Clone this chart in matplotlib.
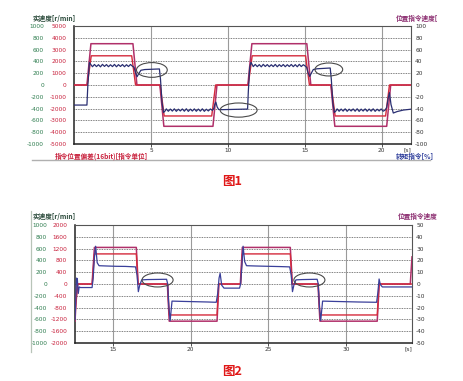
import matplotlib
matplotlib.use('Agg')
import matplotlib.pyplot as plt
from matplotlib.patches import Ellipse
from matplotlib.lines import Line2D

plt.rcParams['font.family'] = ['DejaVu Sans', 'Noto Sans CJK SC']
CJK = ['Noto Sans CJK SC', 'DejaVu Sans']

# ---------------- data: chart 1 (values in left-axis units, r/min) ----------------
c1_xticks = [5, 10, 15, 20]
c1_green_ticks = [1000, 800, 600, 400, 200, 0, -200, -400, -600, -800, -1000]
c1_red_ticks = [5000, 4000, 3000, 2000, 1000, 0, -1000, -2000, -3000, -4000, -5000]
c1_right_ticks = [100, 80, 60, 40, 20, 0, -20, -40, -60, -80, -100]

c1_cmd_t = [0, 0.84, 1.1, 3.83, 4.09, 5.58, 5.84, 9.03, 9.29, 11.3, 11.56, 15.13, 15.39,
            16.69, 16.95, 20.32, 20.58, 21.9]
c1_cmd_v = [0, 0, 700, 700, 0, 0, -700, -700, 0, 0, 700, 700, 0, 0, -700, -700, 0, 0]

c1_dev_t = [0, 0.86, 1.12, 3.75, 4.0, 5.6, 5.86, 8.95, 9.2, 11.32, 11.58, 15.05, 15.3,
            16.71, 16.97, 20.25, 20.5, 21.9]
c1_dev_v = [0, 0, 495, 495, 0, 0, -525, -525, 0, 0, 495, 495, 0, 0, -525, -525, 0, 0]

c1_blue_t = [0, 0.84, 0.9, 1.0, 1.1,
             1.2, 1.33, 1.46, 1.59, 1.72, 1.85, 1.98, 2.11, 2.24, 2.37, 2.5, 2.63, 2.76, 2.89,
             3.02, 3.15, 3.28, 3.41, 3.54, 3.67, 3.8,
             3.9, 4.0, 4.1, 4.2, 4.35, 4.6, 5.0, 5.55,
             5.62, 5.72, 5.82, 5.92,
             6.0, 6.13, 6.26, 6.39, 6.52, 6.65, 6.78, 6.91, 7.04, 7.17, 7.3, 7.43, 7.56, 7.69,
             7.82, 7.95, 8.08, 8.21, 8.34, 8.47, 8.6, 8.73, 8.86, 8.99,
             9.08, 9.15, 9.22, 9.3, 9.4, 9.6, 10.5, 11.28,
             11.33, 11.42, 11.5, 11.58,
             11.65, 11.78, 11.91, 12.04, 12.17, 12.3, 12.43, 12.56, 12.69, 12.82, 12.95, 13.08,
             13.21, 13.34, 13.47, 13.6, 13.73, 13.86, 13.99, 14.12, 14.25, 14.38, 14.51, 14.64,
             14.77, 14.9, 15.03,
             15.12, 15.22, 15.32, 15.42, 15.55, 15.8, 16.3, 16.65,
             16.72, 16.82, 16.92, 17.02,
             17.1, 17.23, 17.36, 17.49, 17.62, 17.75, 17.88, 18.01, 18.14, 18.27, 18.4, 18.53,
             18.66, 18.79, 18.92, 19.05, 19.18, 19.31, 19.44, 19.57, 19.7, 19.83, 19.96, 20.09,
             20.22,
             20.32, 20.42, 20.5, 20.6, 20.75, 21.0, 21.4, 21.9]
c1_blue_v = [-340, -340, 0, 380, 345,
             310, 348, 312, 344, 308, 350, 315, 346, 310, 343, 312, 349, 309, 345,
             314, 347, 310, 344, 313, 348, 318,
             300, 210, 140, 190, 250, 262, 266, 272,
             100, -300, -465, -440,
             -405, -445, -408, -442, -404, -446, -410, -440, -406, -444, -403, -447, -409, -441,
             -405, -445, -408, -443, -404, -446, -410, -440, -406, -430,
             -400, -330, -290, -370, -415, -418, -412, -408,
             -100, 300, 385, 345,
             312, 349, 311, 345, 308, 350, 314, 346, 310, 343, 312, 349,
             309, 345, 314, 347, 310, 344, 313, 348, 311, 345, 309, 350,
             313, 344, 320,
             300, 200, 145, 200, 262, 275, 282, 288,
             100, -300, -465, -440,
             -405, -445, -408, -442, -404, -446, -410, -440, -406, -444, -403, -447,
             -409, -441, -405, -445, -408, -443, -404, -446, -410, -440, -406, -444,
             -425,
             -380, -220, -130, -330, -475, -450, -425, -410]

# ellipses (centre t, centre value, width s, height)
c1_marks = [(5.06, 255, 2.0, 250), (10.7, -425, 2.4, 240), (16.56, 263, 1.8, 220)]

# ---------------- data: chart 2 ----------------
c2_xticks = [15, 20, 25, 30]
c2_green_ticks = [1000, 800, 600, 400, 200, 0, -200, -400, -600, -800, -1000]
c2_red_ticks = [2000, 1600, 1200, 800, 400, 0, -400, -800, -1200, -1600, -2000]
c2_right_ticks = [50, 40, 30, 20, 10, 0, -10, -20, -30, -40, -50]

c2_cmd_t = [12.55, 12.62, 12.72, 13.65, 13.8, 16.5, 16.62, 18.5, 18.62, 21.7, 21.82, 23.2,
            23.33, 26.42, 26.55, 28.2, 28.33, 32.02, 32.15, 34.15, 34.26]
c2_cmd_v = [-630, -300, 0, 0, 620, 620, 0, 0, -630, -630, 0, 0,
            620, 620, 0, 0, -630, -630, 0, 0, 460]

c2_dev_t = [12.55, 12.62, 12.72, 13.66, 13.8, 16.5, 16.6, 18.52, 18.62, 21.7, 21.8, 23.22,
            23.33, 26.42, 26.53, 28.22, 28.33, 32.02, 32.13, 34.26]
c2_dev_v = [-525, -250, 0, 0, 510, 510, 0, 0, -525, -525, 0, 0,
            510, 510, 0, 0, -525, -525, 0, 0]

c2_blue_t = [12.55, 12.6, 12.65, 12.7, 12.76, 12.82, 12.9, 13.65, 13.72, 13.8, 13.88, 13.98,
             14.1, 14.6, 15.2, 15.8, 16.45, 16.55, 16.63, 16.72, 16.85, 17.2, 18.45, 18.52,
             18.6, 18.68, 18.8, 19.5, 20.3, 21.1, 21.65, 21.75, 21.83, 21.9, 22.0, 22.15,
             23.15, 23.22, 23.3, 23.38, 23.48, 23.6, 24.2, 25.0, 25.8, 26.38, 26.48, 26.56,
             26.65, 26.78, 27.2, 28.15, 28.22, 28.3, 28.38, 28.5, 29.2, 30.0, 30.8, 31.98,
             32.06, 32.14, 32.22, 32.35, 34.26]
c2_blue_v = [-600, -250, 100, 90, -160, -50, -60, -60, 100, 450, 640, 360,
             310, 305, 300, 298, 290, 150, -130, -20, 70, 75, 80, 0,
             -400, -620, -290, -295, -300, -305, -310, -150, 100, 180, -20, -70,
             -70, 0, 300, 640, 380, 310, 305, 300, 295, 290, 150, -130,
             -20, 70, 75, 80, 0, -400, -620, -290, -295, -300, -305, -310,
             -150, 85, -10, -50, -50]

c2_marks = [(17.87, 68, 2.0, 237), (27.65, 68, 2.0, 237)]

# ---------------- styling ----------------
W, H = 463, 381
GREEN = '#2e7d4f'
RED = '#c8203c'
PURPLE = '#8a2a6e'
BLUE_T = '#2c3c9a'
CMD = '#b0306a'
DEV = '#d42a3c'
NAVY = '#2a2f72'
TS = 4.2


def px(x, y):
    return x / W, 1 - y / H


fig = plt.figure(figsize=(W / 100, H / 100), dpi=100)
fig.patch.set_facecolor('white')


def make_chart(rect, xlim, xticks, gticks, rticks, pticks, lines, marks, gpad):
    l, t, r, b = rect
    ax = fig.add_axes([l / W, 1 - b / H, (r - l) / W, (b - t) / H])
    ax.set_xlim(*xlim)
    ax.set_ylim(-1000, 1000)
    for y in gticks[1:-1]:
        ax.axhline(y, color='#555555', lw=0.6, ls=(0, (1, 1)), zorder=1)
    for x in xticks:
        ax.axvline(x, color='#9a9a9a', lw=0.8, zorder=1)
    for (tt, vv, col, lw) in lines:
        ax.plot(tt, vv, color=col, lw=lw, zorder=3)
    for (cx, cy, w, h) in marks:
        ax.add_patch(Ellipse((cx, cy), w, h, fill=False, ec='#4a4a4a', lw=0.8, zorder=4))
    ax.set_xticks(xticks)
    ax.set_xticklabels([str(x) for x in xticks])
    ax.tick_params(axis='x', length=2, width=0.6, pad=1, labelsize=TS, colors='#333333')
    ax.set_yticks(gticks)
    ax.set_yticklabels([str(v) for v in gticks])
    ax.tick_params(axis='y', length=0, pad=gpad, labelsize=TS, labelcolor=GREEN)
    for s in ax.spines.values():
        s.set_color('#555555')
        s.set_linewidth(0.8)
    ax.spines['left'].set_color('#222222')
    ax.spines['bottom'].set_color('#222222')
    ax.spines['left'].set_linewidth(1.1)
    ax.spines['bottom'].set_linewidth(1.1)
    ax.text(1.0, -0.025, '[s]', transform=ax.transAxes, ha='right', va='top',
            fontsize=TS, color='#333333')

    axr = ax.twinx()
    axr.set_ylim(rticks[-1], rticks[0])
    axr.yaxis.tick_left()
    axr.set_yticks(rticks)
    axr.set_yticklabels([str(v) for v in rticks])
    axr.tick_params(axis='y', length=0, pad=5.5, labelsize=TS, labelcolor=RED)
    for s in axr.spines.values():
        s.set_visible(False)

    axp = ax.twinx()
    axp.set_ylim(pticks[-1], pticks[0])
    axp.set_yticks(pticks)
    axp.set_yticklabels([str(v) for v in pticks])
    axp.tick_params(axis='y', length=0, pad=3, labelsize=TS, labelcolor='#333333')
    for s in axp.spines.values():
        s.set_visible(False)
    return ax


make_chart((74, 26, 411, 144), (0, 21.9), c1_xticks, c1_green_ticks, c1_red_ticks,
           c1_right_ticks,
           [(c1_cmd_t, c1_cmd_v, CMD, 1.1), (c1_dev_t, c1_dev_v, DEV, 1.0),
            (c1_blue_t, c1_blue_v, NAVY, 0.9)], c1_marks, 21.5)

make_chart((75, 225, 412, 343), (12.55, 34.26), c2_xticks, c2_green_ticks, c2_red_ticks,
           c2_right_ticks,
           [(c2_cmd_t, c2_cmd_v, CMD, 1.1), (c2_dev_t, c2_dev_v, DEV, 1.0),
            (c2_blue_t, c2_blue_v, '#3a3f9a', 0.9)], c2_marks, 20)

# headers / footers
fig.text(*px(33, 18), '实速度[r/min]', family=CJK, fontsize=4.8, color='#2a4a3a',
         va='center', ha='left', weight='bold')
fig.text(*px(396, 18), '位置指令速度[', family=CJK, fontsize=4.8, color=PURPLE,
         va='center', ha='left', weight='bold')
fig.text(*px(55, 156), '指令位置偏差(16bit)[指令单位]', family=CJK, fontsize=4.8, color=RED,
         va='center', ha='left', weight='bold')
fig.text(*px(396, 156), '转矩指令[%]', family=CJK, fontsize=4.8, color=BLUE_T,
         va='center', ha='left', weight='bold')
fig.text(*px(232, 181), '图1', family=CJK, fontsize=9, color='#e01818',
         va='center', ha='center', weight='bold')

fig.text(*px(33, 216), '实速度[r/min]', family=CJK, fontsize=4.8, color='#2a4a3a',
         va='center', ha='left', weight='bold')
fig.text(*px(398, 216), '位置指令速度', family=CJK, fontsize=4.8, color=PURPLE,
         va='center', ha='left', weight='bold')
fig.text(*px(232, 371), '图2', family=CJK, fontsize=9, color='#e01818',
         va='center', ha='center', weight='bold')

# frame lines of the screenshots
fig.add_artist(Line2D([32 / W, 430 / W], [1 - 160 / H, 1 - 160 / H], color='#b0b0b0', lw=1.0))
fig.add_artist(Line2D([31 / W, 31 / W], [1 - 211 / H, 1 - 352 / H], color='#b8c4b8', lw=0.9))

fig.savefig('out.png', dpi=100, facecolor='white')
